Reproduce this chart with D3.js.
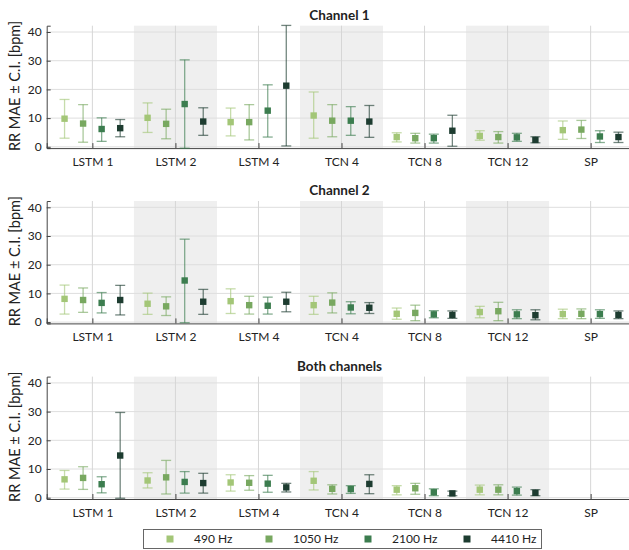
<!DOCTYPE html>
<meta charset="utf-8">
<script src="https://d3js.org/d3.v7.min.js"></script>
<style>
  body { margin: 0; background: #fff; }
  text { font-family: Lato, "Open Sans", sans-serif; fill: #222; }
</style>
<div id="chart"></div>
<script>

// categories and series
var models = ["LSTM 1", "LSTM 2", "LSTM 4", "TCN 4", "TCN 8", "TCN 12", "SP"];
var rates = ["490 Hz", "1050 Hz", "2100 Hz", "4410 Hz"];
var colors = ["#a3c677", "#78a860", "#3c7d4f", "#1d3c30"];
var titles = ["Channel 1", "Channel 2", "Both channels"];
var yTicks = [0, 10, 20, 30, 40];

// values per panel: [model][rate] = [mean, lower, upper]
var channel1 = [
  [[9.8, 3.0, 16.5], [8.1, 1.6, 14.7], [6.2, 1.9, 10.1], [6.5, 3.5, 9.5]],
  [[10.1, 5.0, 15.3], [8.0, 2.8, 13.1], [14.9, -0.5, 30.3], [8.8, 4.0, 13.6]],
  [[8.6, 3.8, 13.5], [8.6, 2.4, 14.7], [12.6, 3.4, 21.6], [21.3, 0.3, 42.3]],
  [[10.9, 3.0, 19.1], [9.1, 3.5, 14.7], [9.1, 4.0, 14.0], [8.8, 3.3, 14.4]],
  [[3.4, 1.7, 4.9], [3.0, 1.3, 4.7], [3.0, 1.3, 4.4], [5.6, 0.2, 11.0]],
  [[3.8, 2.3, 5.6], [3.4, 1.3, 5.3], [3.3, 1.9, 4.7], [2.4, 1.4, 3.5]],
  [[5.8, 2.6, 9.0], [6.0, 2.9, 9.2], [3.6, 1.5, 5.6], [3.4, 1.5, 5.1]]
];
var channel2 = [
  [[8.1, 2.8, 12.9], [7.7, 3.4, 11.9], [6.7, 3.2, 10.3], [7.7, 2.5, 12.8]],
  [[6.4, 2.7, 10.1], [5.5, 2.3, 8.8], [14.5, -0.2, 28.9], [7.1, 2.7, 11.4]],
  [[7.3, 3.0, 11.6], [5.9, 2.8, 9.0], [5.7, 2.8, 8.7], [7.1, 3.6, 10.4]],
  [[5.9, 2.7, 9.0], [6.8, 3.2, 10.2], [5.1, 2.9, 7.1], [5.0, 3.0, 6.8]],
  [[2.9, 1.0, 4.9], [3.2, 0.5, 5.9], [2.7, 1.5, 4.0], [2.5, 1.3, 3.9]],
  [[3.5, 1.5, 5.5], [3.8, 0.5, 6.9], [2.7, 1.2, 4.3], [2.4, 0.8, 4.3]],
  [[2.8, 1.2, 4.5], [2.9, 1.2, 4.6], [2.8, 1.3, 4.3], [2.5, 1.2, 3.9]]
];
var bothChannels = [
  [[6.4, 3.0, 9.5], [6.9, 2.9, 10.8], [4.7, 1.7, 7.3], [14.7, -0.2, 29.7]],
  [[6.0, 3.4, 8.7], [7.1, 1.3, 13.0], [5.5, 1.6, 9.1], [5.1, 1.6, 8.5]],
  [[5.3, 2.3, 8.0], [5.2, 2.6, 7.7], [4.9, 1.9, 7.8], [3.6, 2.0, 5.0]],
  [[5.9, 2.7, 9.1], [3.1, 1.3, 4.5], [3.0, 1.5, 4.2], [4.8, 1.4, 8.0]],
  [[2.8, 1.0, 4.2], [3.3, 1.2, 5.0], [1.9, 0.7, 3.1], [1.5, 0.7, 2.3]],
  [[2.8, 1.0, 4.4], [2.8, 1.0, 4.5], [2.3, 0.9, 3.7], [1.7, 0.7, 2.8]],
  []
];
var panels = [channel1, channel2, bothChannels];

var width = 629, height = 550;
var left = 46.7, right = 636.3;
var panelTop = [25.7, 201, 376.6];
var panelH = 122.4;

var svg = d3.select("#chart").append("svg")
  .attr("width", width)
  .attr("height", height);

var x = d3.scaleLinear().domain([-0.55, models.length - 0.45]).range([left, right]);
var step = x(1) - x(0);
var offset = d3.scaleLinear().domain([0, 3]).range([-0.335, 0.335]);

panels.forEach(function(data, p) {
  var top = panelTop[p];
  var y = d3.scaleLinear().domain([-0.45, 42.2]).range([top + panelH, top]);
  var g = svg.append("g");

  // shaded bands for every other model
  g.selectAll("rect.band")
    .data(models.filter(function(d, i) { return i % 2 === 1; }))
    .enter().append("rect")
      .attr("x", function(d) { return x(models.indexOf(d) - 0.5); })
      .attr("y", top)
      .attr("width", step)
      .attr("height", panelH)
      .attr("fill", "#efefef");

  // horizontal grid
  g.selectAll("line.hgrid")
    .data(yTicks)
    .enter().append("line")
      .attr("x1", left).attr("x2", right)
      .attr("y1", function(d) { return y(d); })
      .attr("y2", function(d) { return y(d); })
      .attr("stroke", "#dedede");

  // vertical grid at group centres
  g.selectAll("line.vgrid")
    .data(models)
    .enter().append("line")
      .attr("x1", function(d, i) { return x(i); })
      .attr("x2", function(d, i) { return x(i); })
      .attr("y1", top).attr("y2", top + panelH)
      .attr("stroke", "#d6d6d6");

  // axes
  var yAxis = d3.axisLeft(y).tickValues(yTicks).tickSize(-4).tickPadding(5);
  var ya = g.append("g").attr("transform", "translate(" + left + ",0)").call(yAxis);
  ya.select(".domain").attr("stroke", "#444");
  ya.selectAll(".tick line").attr("stroke", "#444");
  ya.selectAll("text").style("font-size", "12px").attr("fill", "#333");

  var xAxis = d3.axisBottom(x).tickValues(d3.range(models.length))
    .tickFormat(function(i) { return models[i]; })
    .tickSize(-5).tickPadding(9);
  var xa = g.append("g").attr("transform", "translate(0," + (top + panelH) + ")").call(xAxis);
  xa.select(".domain").attr("stroke", "#444");
  xa.selectAll(".tick line").attr("stroke", "#444");
  xa.selectAll("text").style("font-size", "12px").attr("fill", "#333");

  // error bars and markers
  data.forEach(function(group, m) {
    group.forEach(function(v, r) {
      var cx = x(m + offset(r));
      var bar = g.append("g")
        .attr("stroke", colors[r])
        .attr("stroke-opacity", 0.62)
        .attr("stroke-width", 1.3);
      bar.append("line").attr("x1", cx).attr("x2", cx).attr("y1", y(v[1])).attr("y2", y(v[2]));
      bar.append("line").attr("x1", cx - 5).attr("x2", cx + 5).attr("y1", y(v[1])).attr("y2", y(v[1]));
      bar.append("line").attr("x1", cx - 5).attr("x2", cx + 5).attr("y1", y(v[2])).attr("y2", y(v[2]));
      g.append("rect")
        .attr("x", cx - 3.2).attr("y", y(v[0]) - 3.2)
        .attr("width", 6.4).attr("height", 6.4)
        .attr("fill", colors[r]);
    });
  });

  // title
  svg.append("text")
    .attr("x", (left + right) / 2 - 2)
    .attr("y", top - 6)
    .attr("text-anchor", "middle")
    .style("font-size", "13.5px")
    .style("font-weight", "bold")
    .attr("fill", "#111")
    .text(titles[p]);

  // y label
  svg.append("text")
    .attr("transform", "translate(20," + (top + panelH / 2 - 1) + ") rotate(-90)")
    .attr("text-anchor", "middle")
    .style("font-size", "14.5px")
    .attr("fill", "#333")
    .text("RR MAE \u00b1 C.I. [bpm]");
});

// legend
var legend = svg.append("g");
legend.append("rect")
  .attr("x", 143.5).attr("y", 529.5)
  .attr("width", 398).attr("height", 19)
  .attr("fill", "#fff").attr("stroke", "#666");
var item = legend.selectAll("g.item")
  .data(rates)
  .enter().append("g")
    .attr("transform", function(d, i) { return "translate(" + (170 + i * 99) + ",539)"; });
item.append("rect")
  .attr("x", -3.5).attr("y", -3.5)
  .attr("width", 7).attr("height", 7)
  .attr("fill", function(d, i) { return colors[i]; });
item.append("text")
  .attr("x", 24).attr("y", 4)
  .style("font-size", "12px")
  .attr("fill", "#333")
  .text(function(d) { return d; });

</script>
